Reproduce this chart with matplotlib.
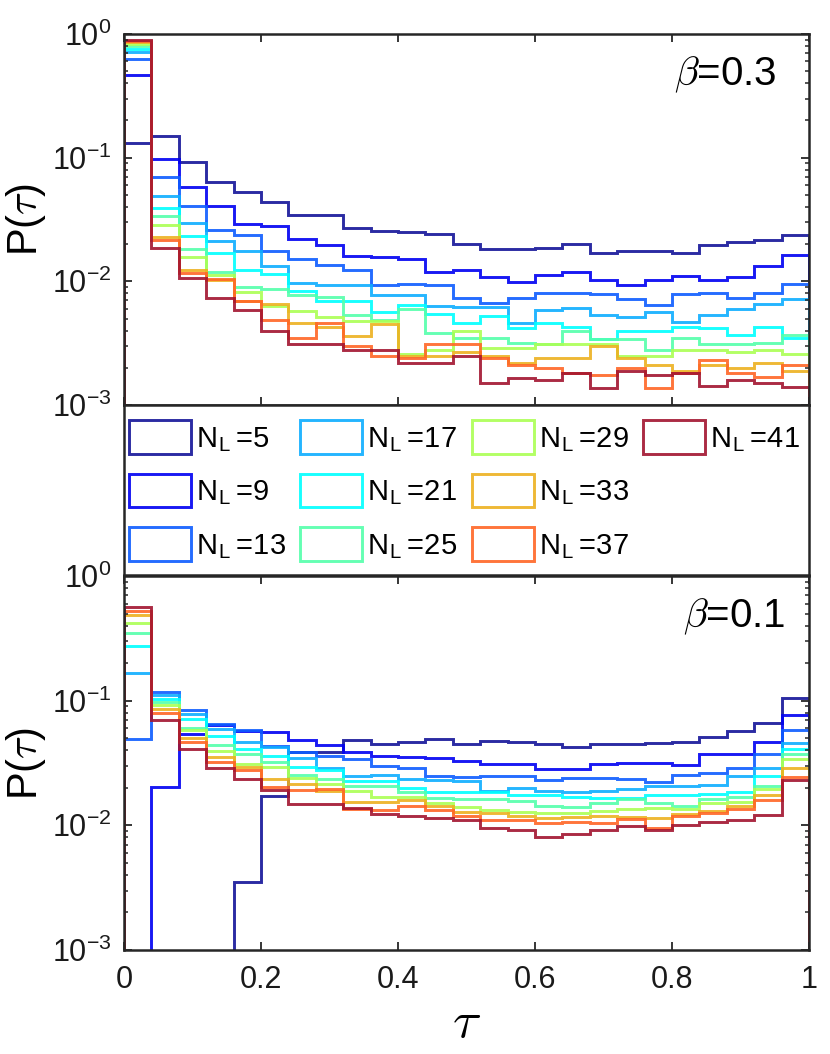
import numpy as np
import matplotlib
matplotlib.use("Agg")
import matplotlib.pyplot as plt
from matplotlib.patches import Patch
from matplotlib.ticker import LogLocator, NullFormatter, FixedLocator

plt.rcParams['font.family'] = ['Liberation Sans', 'DejaVu Sans']
plt.rcParams['mathtext.fontset'] = 'cm'
plt.rcParams['axes.unicode_minus'] = False

# ---------------- data ----------------
edges = np.linspace(0, 1, 26)          # 25 bins of width 0.04
n_L = [5, 9, 13, 17, 21, 25, 29, 33, 37, 41]

# beta = 0.3 (top panel)
top_5 = [0.131, 0.149, 0.093, 0.064, 0.053, 0.044, 0.0346, 0.0346, 0.027, 0.0257, 0.0249, 0.0241, 0.020,
         0.0184, 0.0184, 0.0186, 0.0202, 0.0169, 0.0177, 0.0177, 0.0171, 0.0198, 0.0208, 0.0217, 0.0238]
top_9 = [0.466, 0.0975, 0.0575, 0.0407, 0.0291, 0.0279, 0.0221, 0.0195, 0.0159, 0.0157, 0.0152, 0.0120, 0.0124,
         0.0108, 0.0099, 0.0113, 0.0120, 0.0103, 0.0094, 0.0103, 0.0111, 0.0103, 0.0108, 0.0132, 0.0164]
top_13 = [0.628, 0.0693, 0.0404, 0.0262, 0.0238, 0.0175, 0.0152, 0.0136, 0.0123, 0.0094, 0.0095, 0.0094, 0.0074,
          0.0067, 0.0073, 0.0080, 0.0080, 0.0079, 0.0072, 0.0064, 0.0079, 0.0080, 0.0073, 0.0080, 0.0095]
top_17 = [0.715, 0.0493, 0.0298, 0.0210, 0.0176, 0.0134, 0.0097, 0.0094, 0.0094, 0.0078, 0.0077, 0.0063, 0.0062,
          0.0062, 0.0046, 0.0059, 0.0061, 0.0053, 0.0051, 0.0056, 0.0047, 0.0053, 0.0060, 0.0066, 0.0072]
top_21 = [0.761, 0.0394, 0.0234, 0.0171, 0.0124, 0.0115, 0.0083, 0.0069, 0.0069, 0.0057, 0.0064, 0.0054, 0.0046,
          0.0052, 0.0042, 0.0046, 0.0043, 0.0034, 0.0040, 0.0040, 0.0043, 0.0042, 0.0037, 0.0043, 0.0035]
top_25 = [0.795, 0.0338, 0.0183, 0.0118, 0.0090, 0.0086, 0.0078, 0.0075, 0.0053, 0.0049, 0.0060, 0.0038, 0.0035,
          0.0035, 0.0032, 0.0031, 0.0040, 0.0034, 0.0034, 0.0028, 0.0035, 0.0031, 0.0031, 0.0032, 0.0037]
top_29 = [0.830, 0.0284, 0.0157, 0.0113, 0.0082, 0.0063, 0.0058, 0.0051, 0.0048, 0.0048, 0.0026, 0.0028, 0.0040,
          0.0029, 0.0029, 0.0031, 0.0031, 0.0031, 0.0025, 0.0025, 0.0028, 0.0028, 0.0027, 0.0028, 0.0026]
top_33 = [0.856, 0.0230, 0.0124, 0.0103, 0.0069, 0.0066, 0.0046, 0.0043, 0.0036, 0.0045, 0.0025, 0.0025, 0.0027,
          0.0025, 0.0022, 0.0024, 0.0024, 0.0030, 0.0024, 0.0021, 0.0019, 0.0021, 0.0020, 0.0022, 0.0019]
top_37 = [0.878, 0.0216, 0.0116, 0.0105, 0.0069, 0.0049, 0.0035, 0.0046, 0.0030, 0.0025, 0.0024, 0.0031, 0.0031,
          0.0024, 0.0021, 0.0020, 0.0018, 0.00175, 0.0020, 0.00137, 0.0018, 0.0023, 0.0018, 0.0017, 0.0021]
top_41 = [0.900, 0.0186, 0.0106, 0.0074, 0.0059, 0.0040, 0.0031, 0.0031, 0.0028, 0.0028, 0.0022, 0.0022, 0.0025,
          0.0015, 0.00165, 0.0016, 0.0018, 0.00137, 0.0019, 0.00175, 0.0018, 0.00143, 0.0016, 0.0015, 0.0014]

# beta = 0.1 (bottom panel)
bot_5 = [0, 0, 0, 0, 0.0035, 0.0173, 0.0386, 0.0386, 0.048, 0.045, 0.0465, 0.0494, 0.0451,
         0.0478, 0.047, 0.0447, 0.0424, 0.0447, 0.0447, 0.046, 0.0465, 0.051, 0.057, 0.066, 0.105]
bot_9 = [0, 0.0202, 0.054, 0.064, 0.057, 0.0559, 0.0485, 0.044, 0.0386, 0.036, 0.0352, 0.035, 0.0327,
         0.0311, 0.0311, 0.0284, 0.0284, 0.031, 0.0314, 0.0318, 0.0305, 0.0374, 0.0376, 0.0465, 0.0762]
bot_13 = [0.049, 0.117, 0.0836, 0.0653, 0.0577, 0.0434, 0.0386, 0.036, 0.034, 0.030, 0.0289, 0.025, 0.0245,
          0.025, 0.025, 0.0231, 0.024, 0.024, 0.0236, 0.0221, 0.0253, 0.0263, 0.0291, 0.0376, 0.0584]
bot_17 = [0.167, 0.112, 0.0786, 0.0595, 0.0465, 0.0423, 0.0345, 0.029, 0.025, 0.0253, 0.0236, 0.0231, 0.0228,
          0.019, 0.0199, 0.0188, 0.0185, 0.019, 0.0195, 0.0205, 0.0205, 0.021, 0.025, 0.029, 0.046]
bot_21 = [0.273, 0.104, 0.0716, 0.0525, 0.041, 0.036, 0.0296, 0.0279, 0.0225, 0.0225, 0.020, 0.0185, 0.0185,
          0.0185, 0.0176, 0.0174, 0.017, 0.0166, 0.0166, 0.0176, 0.0176, 0.018, 0.0185, 0.025, 0.041]
bot_25 = [0.350, 0.0975, 0.060, 0.0437, 0.0374, 0.032, 0.0254, 0.0236, 0.0208, 0.0208, 0.0185, 0.0166, 0.0162,
          0.0162, 0.0158, 0.0144, 0.014, 0.015, 0.0162, 0.015, 0.0144, 0.0162, 0.017, 0.0205, 0.0376]
bot_29 = [0.421, 0.092, 0.058, 0.0398, 0.0311, 0.0296, 0.024, 0.0215, 0.019, 0.017, 0.017, 0.015, 0.014,
          0.0133, 0.0128, 0.0126, 0.0126, 0.013, 0.0134, 0.0137, 0.0135, 0.015, 0.0155, 0.0195, 0.034]
bot_33 = [0.486, 0.085, 0.0504, 0.0352, 0.0296, 0.0236, 0.0215, 0.019, 0.0153, 0.0155, 0.016, 0.0142, 0.0128,
          0.0126, 0.0119, 0.0114, 0.0116, 0.0119, 0.0117, 0.0114, 0.0124, 0.013, 0.0142, 0.0174, 0.029]
bot_37 = [0.526, 0.0795, 0.0465, 0.032, 0.0279, 0.0204, 0.0192, 0.0196, 0.0135, 0.0133, 0.0144, 0.0133, 0.0118,
          0.011, 0.0111, 0.0104, 0.0106, 0.0104, 0.0113, 0.0096, 0.0119, 0.0126, 0.0135, 0.016, 0.0245]
bot_41 = [0.566, 0.0694, 0.041, 0.0289, 0.0236, 0.0192, 0.0148, 0.0148, 0.0138, 0.0123, 0.0119, 0.0114, 0.011,
          0.0096, 0.0091, 0.0081, 0.0085, 0.0091, 0.0099, 0.0091, 0.0100, 0.0106, 0.011, 0.0122, 0.0232]

top_series = [top_5, top_9, top_13, top_17, top_21, top_25, top_29, top_33, top_37, top_41]
bot_series = [bot_5, bot_9, bot_13, bot_17, bot_21, bot_25, bot_29, bot_33, bot_37, bot_41]

colors = [(0.08, 0.08, 0.60), (0.0, 0.0, 0.95), (0.05, 0.36, 1.0), (0.05, 0.68, 1.0), (0.0, 1.0, 1.0),
          (0.33, 1.0, 0.67), (0.67, 1.0, 0.33), (0.929, 0.694, 0.125), (1.0, 0.40, 0.15), (0.635, 0.078, 0.184)]

xticks = [0, 0.2, 0.4, 0.6, 0.8, 1]
xticklabels = ['0', '0.2', '0.4', '0.6', '0.8', '1']

# ---------------- layout ----------------
W, H = 830, 1054
fig = plt.figure(figsize=(W / 100, H / 100), dpi=100)
L, R = 124, 809

def frac(top, bottom):
    return [L / W, 1 - bottom / H, (R - L) / W, (bottom - top) / H]

ax_top = fig.add_axes(frac(34, 405))
ax_mid = fig.add_axes(frac(405, 575))
ax_bot = fig.add_axes(frac(576, 950))

spine_col = (0.15, 0.15, 0.15)
LW = 2.1
ALPHA = 0.9
FLOOR = 1e-9

for ax, series in ((ax_top, top_series), (ax_bot, bot_series)):
    for vals, col in zip(series, colors):
        v = np.asarray(vals, dtype=float)
        v = np.where(v > 0, v, FLOOR)
        ax.stairs(v, edges, baseline=FLOOR, color=col, lw=LW, alpha=ALPHA)
    ax.set_yscale('log')
    ax.set_ylim(1e-3, 1)
    ax.set_xlim(0, 1)
    ax.yaxis.set_major_locator(FixedLocator([1e-3, 1e-2, 1e-1, 1]))
    ax.yaxis.set_minor_locator(LogLocator(base=10, subs=np.arange(2, 10)))
    ax.yaxis.set_minor_formatter(NullFormatter())
    ax.set_xticks(xticks)
    ax.tick_params(which='both', direction='in', top=True, right=True, color=spine_col,
                   labelcolor=(0.1, 0.1, 0.1), labelsize=22)
    ax.tick_params(which='major', length=6, width=1.3)
    ax.tick_params(which='minor', length=3.2, width=1.1)
    ax.tick_params(axis='y', pad=9)
    ax.tick_params(axis='x', pad=11)
    for sp in ax.spines.values():
        sp.set_color(spine_col)
        sp.set_linewidth(1.8)
    ax.set_ylabel(r'P($\tau$)', fontsize=30, labelpad=3)

ax_top.set_xticklabels([])
ax_bot.set_xticklabels(xticklabels)
ax_bot.set_xlabel(r'$\tau$', fontsize=38, labelpad=2)

ax_top.text(0.953, 0.89, r'$\beta$=0.3', transform=ax_top.transAxes, ha='right', va='center', fontsize=29)
ax_bot.text(0.965, 0.89, r'$\beta$=0.1', transform=ax_bot.transAxes, ha='right', va='center', fontsize=29)

# legend box
ax_mid.set_xticks([])
ax_mid.set_yticks([])
for sp in ax_mid.spines.values():
    sp.set_color(spine_col)
    sp.set_linewidth(1.8)

handles = [Patch(facecolor='none', edgecolor=c, lw=LW, alpha=ALPHA, label=r'N$_{\mathregular{L}}\,$=%d' % n)
           for c, n in zip(colors, n_L)]
handles += [Patch(facecolor='none', edgecolor='none', label=' '), Patch(facecolor='none', edgecolor='none', label=' ')]
ax_mid.legend(handles=handles, loc='upper left', bbox_to_anchor=(5 / 685, 1 - 15 / 170), ncol=4,
              frameon=False, fontsize=21, handlelength=2.12, handleheight=1.4, handletextpad=0.17,
              columnspacing=0.5, labelspacing=0.68, borderpad=0, borderaxespad=0)

fig.savefig('out.png', dpi=100)
